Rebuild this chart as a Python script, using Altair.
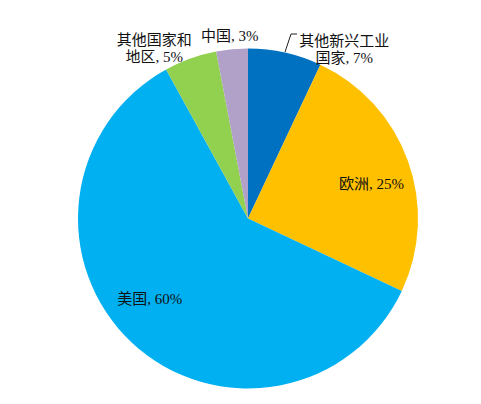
import altair as alt
import pandas as pd

# Shares by region, clockwise from 12 o'clock
categories = ["其他新兴工业国家", "欧洲", "美国", "其他国家和地区", "中国"]
values = [7, 25, 60, 5, 3]
label_lines = ["其他新兴工业\n国家, 7%", "欧洲, 25%", "美国, 60%", "其他国家和\n地区, 5%", "中国, 3%"]
colors = ["#0070C0", "#FFC000", "#00B0F0", "#92D050", "#B1A0C7"]

df = pd.DataFrame({
    "category": categories,
    "value": values,
    "label": label_lines,
    "order": list(range(len(categories))),
})

CX, CY, R = 248, 218.5, 170
FONT = "'Liberation Serif', 'Noto Sans CJK SC'"

base = alt.Chart(df)

pie = base.mark_arc(radius=R).encode(
    theta=alt.Theta("value:Q", stack=True),
    order=alt.Order("order:Q"),
    color=alt.Color("category:N", scale=alt.Scale(domain=categories, range=colors), legend=None),
    x=alt.value(CX),
    y=alt.value(CY),
)

# mid-angle of every slice (radians, clockwise from top)
with_mid = base.transform_window(
    cum="sum(value)", sort=[alt.SortField("order")]
).transform_joinaggregate(
    total="sum(value)"
).transform_calculate(
    mid="2*PI*(datum.cum - datum.value/2)/datum.total"
)

# (category, label radius, dx, dy)
placements = [
    ("其他新兴工业国家", 194, 54, 12),
    ("欧洲", 128, 3, 9),
    ("美国", 126, -12, -11),
    ("其他国家和地区", 200, -26, 10),
    ("中国", 183, -1, 0),
]

labels = []
for cat, rad, dx, dy in placements:
    labels.append(
        with_mid.transform_filter(alt.datum.category == cat).mark_text(
            font=FONT, fontSize=15, color="#111111", align="center",
            baseline="middle", lineBreak="\n", lineHeight=17, dx=dx, dy=dy,
        ).encode(
            theta=alt.Theta("mid:Q", scale=None),
            radius=alt.value(rad),
            text="label:N",
            x=alt.value(CX),
            y=alt.value(CY),
        )
    )

# leader line for the small top-right slice
leader1 = base.mark_rule(color="#222222", strokeWidth=1).encode(
    x=alt.value(285), y=alt.value(52), x2=alt.value(291), y2=alt.value(34)
).transform_filter(alt.datum.order == 0)
leader2 = base.mark_rule(color="#222222", strokeWidth=1).encode(
    x=alt.value(291), y=alt.value(34), x2=alt.value(297), y2=alt.value(34)
).transform_filter(alt.datum.order == 0)

chart = alt.layer(pie, *labels, leader1, leader2).properties(
    width=481, height=404, padding=0, autosize=alt.AutoSizeParams(type="none"),
    background="white",
).configure_view(stroke=None)

chart.save("out.html", embed_options={"renderer": "svg", "actions": False})
